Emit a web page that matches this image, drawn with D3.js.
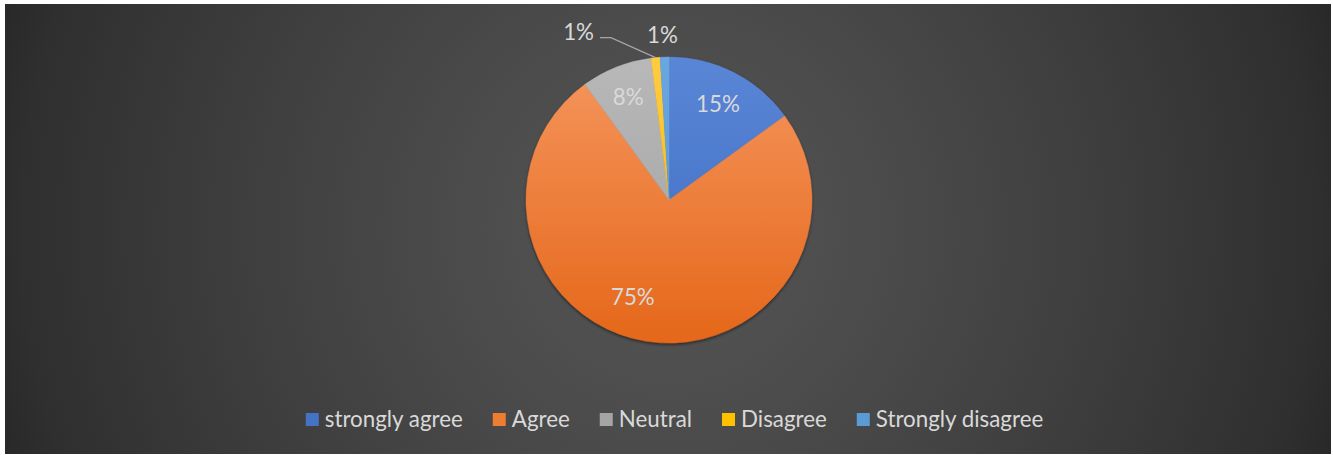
<!DOCTYPE html>
<html><head><meta charset="utf-8">
<script src="https://cdn.jsdelivr.net/npm/d3@7/dist/d3.min.js"></script>
<style>html,body{margin:0;padding:0;background:#fff;} svg{display:block}</style>
</head><body><svg id="chart" width="1333" height="455"></svg>
<script>
// ---- data ----
const categories = ["strongly agree", "Agree", "Neutral", "Disagree", "Strongly disagree"];
const values = [15, 75, 8, 1, 1];
const valueLabels = ["15%", "75%", "8%", "1%", "1%"];

// ---- styles ----
const topColors = ["#5a86d6", "#f5965e", "#b8b8b8", "#ffcc40", "#6aa7e0"];
const bottomColors = ["#3c6ac0", "#e5671a", "#a0a0a0", "#f2b500", "#5291cc"];
const legendColors = ["#4472C4", "#ED7D31", "#A5A5A5", "#FFC000", "#5B9BD5"];

const svg = d3.select("#chart");
const defs = svg.append("defs");
const FONT = "Lato, 'Open Sans', sans-serif";
const textColor = "#d9d9d9";

// chart area
const area = {x: 5, y: 4, w: 1326, h: 450};
const bg = defs.append("radialGradient").attr("id", "bg")
  .attr("gradientUnits", "userSpaceOnUse")
  .attr("cx", 668).attr("cy", 229).attr("r", 720);
[[0, "#565656"], [0.3, "#4b4b4b"], [0.6, "#3e3e3e"], [0.9, "#2f2f2f"], [1, "#262626"]]
  .forEach(([o, c]) => bg.append("stop").attr("offset", o).attr("stop-color", c));
svg.append("rect").attr("x", area.x).attr("y", area.y).attr("width", area.w).attr("height", area.h)
  .attr("fill", "url(#bg)");

// pie
const cx = 669, cy = 200, R = 143;
const shadow = defs.append("filter").attr("id", "sh").attr("x", "-10%").attr("y", "-10%").attr("width", "120%").attr("height", "125%");
shadow.append("feDropShadow").attr("dx", 0).attr("dy", 1.5).attr("stdDeviation", 1.5)
  .attr("flood-color", "#000").attr("flood-opacity", 0.55);

categories.forEach((c, i) => {
  const g = defs.append("linearGradient").attr("id", "sg" + i)
    .attr("gradientUnits", "userSpaceOnUse")
    .attr("x1", 0).attr("x2", 0).attr("y1", -R).attr("y2", R);
  g.append("stop").attr("offset", 0).attr("stop-color", topColors[i]);
  g.append("stop").attr("offset", 1).attr("stop-color", bottomColors[i]);
});

const pie = d3.pie().sort(null).value(d => d.v);
const data = categories.map((c, i) => ({c, v: values[i], l: valueLabels[i], i}));
const arcs = pie(data);
const arc = d3.arc().innerRadius(0).outerRadius(R);

const pg = svg.append("g").attr("transform", `translate(${cx},${cy})`);
pg.append("g").attr("filter", "url(#sh)").selectAll("path").data(arcs).join("path")
  .attr("d", arc)
  .attr("fill", d => `url(#sg${d.data.i})`)
  .attr("stroke", d => `url(#sg${d.data.i})`).attr("stroke-width", 0.4);

// font scale: fit Calibri-like widths
const probe = svg.append("text").attr("font-family", FONT).attr("font-size", 24).text("strongly agree");
const k = 138 / probe.node().getComputedTextLength();
probe.remove();
const fs = 24 * k;

// data labels
const labelLayout = [
  {mode: "in", r: 0.755, dA: 0},
  {mode: "in", r: 0.725, dA: 11.4},
  {mode: "in", r: 0.775, dA: 0},
  {mode: "out", dx: -77, dy: -25.5, leader: true},
  {mode: "out", dx: -2, dy: -22, leader: false}
];
const lg = svg.append("g").attr("transform", `translate(${cx},${cy})`);
arcs.forEach((a, i) => {
  const L = labelLayout[i];
  const mid = (a.startAngle + a.endAngle) / 2;
  let x, y;
  if (L.mode === "in") {
    const ang = mid + L.dA * Math.PI / 180;
    x = Math.sin(ang) * R * L.r; y = -Math.cos(ang) * R * L.r;
  } else {
    const ex = Math.sin(mid) * R, ey = -Math.cos(mid) * R;
    x = ex + L.dx; y = ey + L.dy;
    if (L.leader) {
      const tw = fs * 1.2;
      const sx = x + tw / 2 + 8;
      lg.append("path")
        .attr("d", `M${sx},${y + 5.5}L${sx + 11},${y + 5.5}L${ex},${ey}`)
        .attr("fill", "none").attr("stroke", "#a6a6a6").attr("stroke-width", 1.2);
    }
  }
  lg.append("text").attr("x", x).attr("y", y).attr("dy", "0.35em")
    .attr("text-anchor", "middle").attr("font-family", FONT).attr("font-size", fs)
    .attr("fill", textColor).text(a.data.l);
});

// legend
const legend = svg.append("g");
const sq = 13, gapT = 6, gapI = 30, baseY = 427;
const items = categories.map((c, i) => {
  const g = legend.append("g");
  g.append("rect").attr("width", sq).attr("height", sq).attr("y", baseY - 14).attr("fill", legendColors[i]);
  const t = g.append("text").attr("x", sq + gapT).attr("y", baseY)
    .attr("font-family", FONT).attr("font-size", fs).attr("fill", textColor).text(c);
  return {g, w: sq + gapT + t.node().getComputedTextLength()};
});
const total = d3.sum(items, d => d.w) + gapI * (items.length - 1);
let xPos = 674.5 - total / 2;
items.forEach(it => { it.g.attr("transform", `translate(${xPos},0)`); xPos += it.w + gapI; });
</script></body></html>
